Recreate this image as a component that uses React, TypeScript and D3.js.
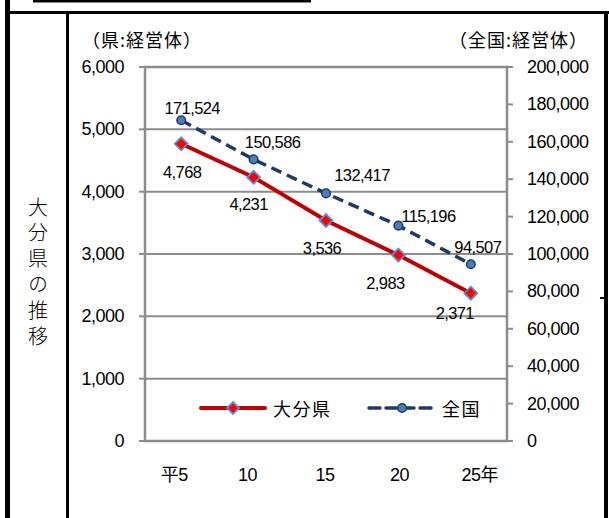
import React from "react";
import * as d3 from "d3";

const categories = ["平5", "10", "15", "20", "25年"];
const oitaValues = [4768, 4231, 3536, 2983, 2371];
const nationalValues = [171524, 150586, 132417, 115196, 94507];
const leftTicks = [0, 1000, 2000, 3000, 4000, 5000, 6000];
const rightTicks = [0, 20000, 40000, 60000, 80000, 100000, 120000, 140000, 160000, 180000, 200000];
const leftUnit = "（県:経営体）";
const rightUnit = "（全国:経営体）";
const sideTitle = "大分県の推移";
const legendNames = ["大分県", "全国"];

// label layout offsets (styling, not data)
const oitaLabelDx = [1, -5, -4, -13, -16];
const oitaLabelDy = [28, 27, 27, 28, 20];
const natLabelDx = [11, 19, 36, 30, 7];
const natLabelDy = [-12, -17, -18, -10, -17];
const catLabelDx = [-7, -6, -1, 1, 9];

const W = 609;
const H = 518;
const plot = { left: 145, right: 507, top: 67, bottom: 441 };
const NUM_FONT = "'Liberation Sans', Arial, 'Noto Sans CJK JP', sans-serif";
const CJK_FONT = "'Noto Sans CJK JP', sans-serif";
const GRAY = "#8c8c8c";
const RED = "#c00000";
const NAVY = "#1f3a64";

export default function App() {
  const x = d3.scaleBand<string>().domain(categories).range([plot.left, plot.right]);
  const cx = (c: string) => (x(c) as number) + x.bandwidth() / 2;
  const yL = d3.scaleLinear().domain([0, 6000]).range([plot.bottom, plot.top]);
  const yR = d3.scaleLinear().domain([0, 200000]).range([plot.bottom, plot.top]);
  const fmt = d3.format(",");

  const oitaLine = d3
    .line<number>()
    .x((_, i) => cx(categories[i]))
    .y((d) => yL(d))(oitaValues) as string;
  const natLine = d3
    .line<number>()
    .x((_, i) => cx(categories[i]))
    .y((d) => yR(d))(nationalValues) as string;

  const diamond = (px: number, py: number, r: number) =>
    `M${px},${py - r}L${px + r},${py}L${px},${py + r}L${px - r},${py}Z`;

  const legendY = 408;

  return (
    <svg
      width={W}
      height={H}
      style={{ position: "absolute", left: 0, top: 0, display: "block", background: "#fff" }}
    >
      <rect x={0} y={0} width={W} height={H} fill="#fff" />
      {/* frame lines */}
      <rect x={33} y={0} width={278} height={2.5} fill="#000" />
      <rect x={5} y={0} width={5} height={H} fill="#000" />
      <rect x={5} y={11} width={W - 5} height={3} fill="#000" />
      <rect x={66} y={11} width={3} height={H - 11} fill="#000" />
      <rect x={604} y={11} width={4} height={H - 11} fill="#000" />
      <rect x={600} y={297} width={4} height={2} fill="#000" />

      {/* side title */}
      <text
        x={38}
        y={197}
        fontFamily={CJK_FONT}
        fontSize={20}
        fontWeight={300}
        letterSpacing={5.8}
        style={{ writingMode: "vertical-rl" }}
        fill="#000"
      >
        {sideTitle}
      </text>

      {/* unit labels */}
      <text x={82} y={47} fontFamily={CJK_FONT} fontSize={18} letterSpacing={1} fill="#000">
        {leftUnit}
      </text>
      <text x={588} y={47} fontFamily={CJK_FONT} fontSize={18} letterSpacing={1} textAnchor="end" fill="#000">
        {rightUnit}
      </text>

      {/* gridlines */}
      {leftTicks
        .filter((t) => t > 0 && t < 6000)
        .map((t) => (
          <line key={t} x1={plot.left} x2={plot.right} y1={yL(t)} y2={yL(t)} stroke={GRAY} strokeWidth={2} />
        ))}
      {/* plot frame */}
      <rect
        x={plot.left}
        y={plot.top}
        width={plot.right - plot.left}
        height={plot.bottom - plot.top}
        fill="none"
        stroke={GRAY}
        strokeWidth={2.5}
      />
      {/* left ticks */}
      {leftTicks.map((t) => (
        <g key={t}>
          <line x1={plot.left - 6} x2={plot.left} y1={yL(t)} y2={yL(t)} stroke={GRAY} strokeWidth={2} />
          <text
            x={124}
            y={yL(t)}
            fontFamily={NUM_FONT}
            fontSize={18}
            letterSpacing={-0.5}
            textAnchor="end"
            dominantBaseline="central"
            fill="#000"
          >
            {fmt(t)}
          </text>
        </g>
      ))}
      {/* right ticks */}
      {rightTicks.map((t) => (
        <g key={t}>
          <line x1={plot.right} x2={plot.right + 6} y1={yR(t)} y2={yR(t)} stroke={GRAY} strokeWidth={2} />
          <text
            x={527}
            y={yR(t)}
            fontFamily={NUM_FONT}
            fontSize={18}
            letterSpacing={-0.5}
            dominantBaseline="central"
            fill="#000"
          >
            {fmt(t)}
          </text>
        </g>
      ))}
      {/* category labels */}
      {categories.map((c, i) => (
        <text
          key={c}
          x={cx(c) + catLabelDx[i]}
          y={481}
          fontFamily={NUM_FONT}
          fontSize={18}
          letterSpacing={-0.5}
          textAnchor="middle"
          fill="#000"
        >
          {c}
        </text>
      ))}

      {/* national line */}
      <path d={natLine} fill="none" stroke={NAVY} strokeWidth={3.5} strokeDasharray="11,6" />
      {nationalValues.map((v, i) => (
        <circle key={i} cx={cx(categories[i])} cy={yR(v)} r={4.3} fill="#4a7ebb" stroke={NAVY} strokeWidth={1.5} />
      ))}
      {/* oita line */}
      <path d={oitaLine} fill="none" stroke={RED} strokeWidth={4} />
      {oitaValues.map((v, i) => (
        <path key={i} d={diamond(cx(categories[i]), yL(v), 6.5)} fill="#ff0000" stroke="#5b8fd0" strokeWidth={1.8} />
      ))}

      {/* data labels */}
      {nationalValues.map((v, i) => (
        <text
          key={i}
          x={cx(categories[i]) + natLabelDx[i]}
          y={yR(v) + natLabelDy[i]}
          fontFamily={NUM_FONT}
          fontSize={16.5}
          letterSpacing={-0.6}
          textAnchor="middle"
          dominantBaseline="central"
          fill="#000"
        >
          {fmt(v)}
        </text>
      ))}
      {oitaValues.map((v, i) => (
        <text
          key={i}
          x={cx(categories[i]) + oitaLabelDx[i]}
          y={yL(v) + oitaLabelDy[i]}
          fontFamily={NUM_FONT}
          fontSize={16.5}
          letterSpacing={-0.6}
          textAnchor="middle"
          dominantBaseline="central"
          fill="#000"
        >
          {fmt(v)}
        </text>
      ))}

      {/* legend */}
      <line x1={201} x2={265} y1={legendY} y2={legendY} stroke={RED} strokeWidth={4} strokeLinecap="round" />
      <path d={diamond(233, legendY, 6)} fill="#ff0000" stroke="#5b8fd0" strokeWidth={1.8} />
      <text x={273} y={legendY} fontFamily={CJK_FONT} fontSize={18} letterSpacing={1.5} dominantBaseline="central" fill="#000">
        {legendNames[0]}
      </text>
      <line
        x1={369}
        x2={432}
        y1={legendY}
        y2={legendY}
        stroke={NAVY}
        strokeWidth={3.5}
        strokeDasharray="11,6"
        strokeLinecap="round"
      />
      <circle cx={402} cy={legendY} r={4.3} fill="#4a7ebb" stroke={NAVY} strokeWidth={1.5} />
      <text x={442} y={legendY} fontFamily={CJK_FONT} fontSize={18} letterSpacing={1.5} dominantBaseline="central" fill="#000">
        {legendNames[1]}
      </text>
    </svg>
  );
}
